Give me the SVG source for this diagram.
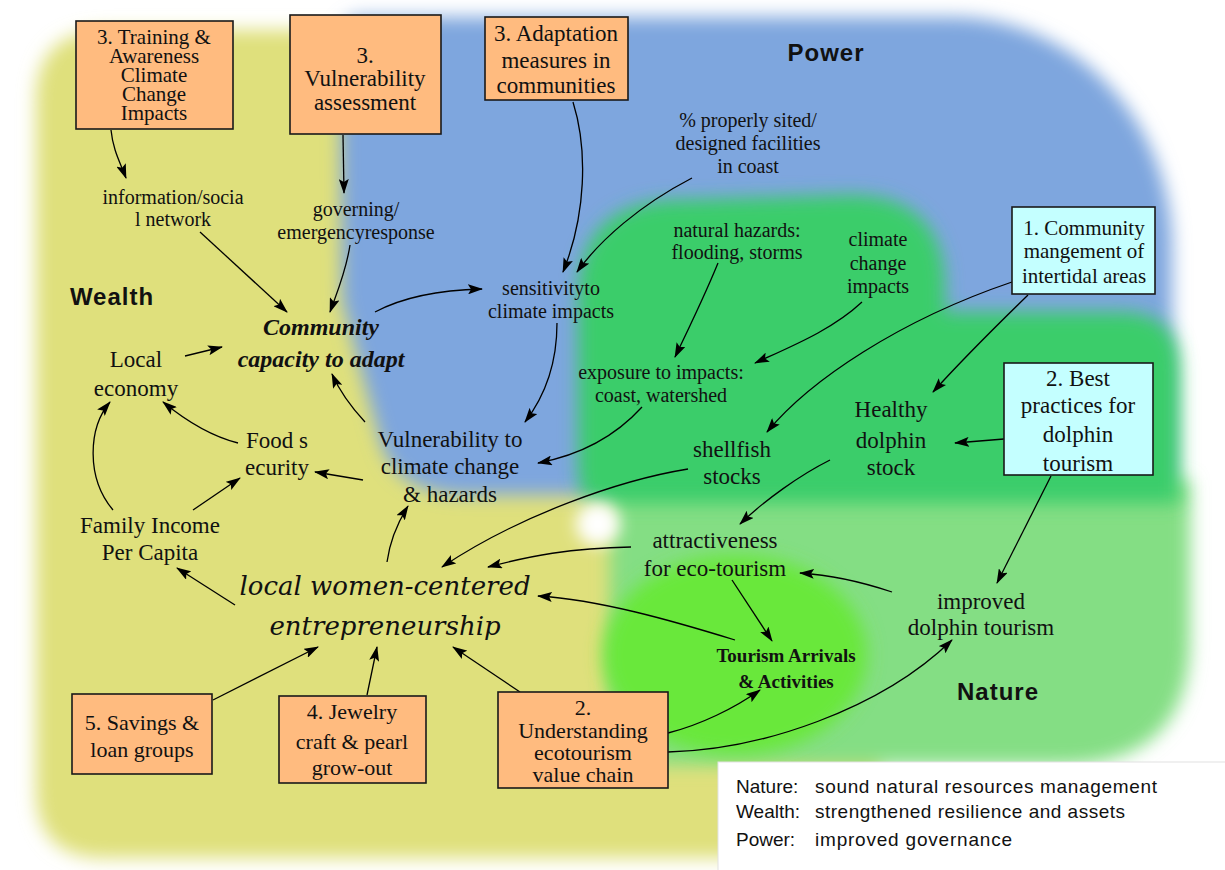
<svg xmlns="http://www.w3.org/2000/svg" width="1225" height="870" viewBox="0 0 1225 870">
<defs>
<filter id="blur" x="-20%" y="-20%" width="140%" height="140%"><feGaussianBlur stdDeviation="9"/></filter>
<filter id="blur2" x="-50%" y="-50%" width="200%" height="200%"><feGaussianBlur stdDeviation="8"/></filter>
<marker id="ah" markerUnits="userSpaceOnUse" markerWidth="15" markerHeight="10" refX="14" refY="5" orient="auto"><path d="M0,0 L15,5 L0,10 L3,5 Z" fill="#000"/></marker>
<style>
.box{fill:#ffbb7f;stroke:#1a1a1a;stroke-width:1.6}
.cbox{fill:#c4ffff;stroke:#1a1a1a;stroke-width:1.6}
text{font-family:"Liberation Serif",serif;fill:#111;text-anchor:middle}
.t23{font-size:23px}
.t22{font-size:22px}
.t20{font-size:20px}
.t21{font-size:21px}
.hd{font-family:"Liberation Sans",sans-serif;font-weight:bold;font-size:24px;letter-spacing:1px}
.cap{font-size:24px;font-weight:bold;font-style:italic}
.ent{font-family:"DejaVu Serif",serif;font-style:italic;font-size:26px}
.ta{font-size:19px;font-weight:bold}
.lg{font-family:"Liberation Sans",sans-serif;font-size:19px;text-anchor:start}
.c path{fill:none;stroke:#000;stroke-width:1.3;marker-end:url(#ah)}
</style>
</defs>
<rect width="1225" height="870" fill="#fff"/>
<g id="background">
<path filter="url(#blur)" fill="#dfe07b" d="M110,30 L440,30 L440,470 L800,470 Q880,470 880,550 L880,800 Q880,858 820,858 L105,858 Q36,858 36,790 L36,100 Q36,30 110,30 Z"/>
<path filter="url(#blur)" fill="#7ea6de" d="M362,17 L950,17 A220,230 0 0 1 1172,245 L1172,470 Q1172,495 1140,495 L470,495 Q395,495 380,440 L342,300 L340,40 Q340,17 362,17 Z"/>
<path filter="url(#blur)" fill="#84de84" d="M610,480 L1190,480 L1190,640 Q1190,765 1060,765 L660,765 Q610,765 610,720 Z"/>
<path filter="url(#blur)" fill="#3bcd6b" d="M680,200 L850,195 Q945,195 945,290 L945,312 L1120,312 Q1180,312 1180,370 L1180,503 L600,503 Q578,503 578,470 L578,300 Q578,200 680,200 Z"/>
<ellipse filter="url(#blur)" fill="#69e83b" cx="735" cy="655" rx="132" ry="100"/>
<circle filter="url(#blur2)" fill="#fff" cx="598" cy="524" r="22"/>
</g>
<g id="connectors" class="c">
<path d="M111,130 C113,150 120,162 126,178"/>
<path d="M343,135 L344,193"/>
<path d="M200,232 L287,312"/>
<path d="M350,245 C346,272 337,292 330,312"/>
<path d="M375,312 C405,296 440,290 482,289"/>
<path d="M573,102 C588,150 586,215 563,272"/>
<path d="M692,178 C640,205 600,240 577,272"/>
<path d="M557,323 C557,362 545,396 525,422"/>
<path d="M185,356 L222,347"/>
<path d="M238,443 C210,436 185,420 163,402"/>
<path d="M113,510 C86,478 88,428 110,402"/>
<path d="M193,510 L240,478"/>
<path d="M363,480 L315,472"/>
<path d="M365,422 C352,408 340,392 332,374"/>
<path d="M642,407 C612,440 575,456 538,463"/>
<path d="M718,263 C705,295 690,326 675,357"/>
<path d="M862,302 C832,330 792,346 755,363"/>
<path d="M1012,282 C900,320 810,380 767,432"/>
<path d="M1028,295 C992,330 962,360 933,392"/>
<path d="M1004,439 L955,443"/>
<path d="M1051,476 L997,583"/>
<path d="M830,460 C800,475 765,500 740,524"/>
<path d="M688,469 C620,480 520,515 442,567"/>
<path d="M631,547 C570,548 530,556 488,567"/>
<path d="M892,592 C862,582 832,575 800,573"/>
<path d="M732,580 L772,641"/>
<path d="M735,640 C670,620 600,600 538,596"/>
<path d="M520,692 L453,647"/>
<path d="M668,733 C700,725 735,708 760,690"/>
<path d="M668,752 C760,750 880,710 952,640"/>
<path d="M213,700 L318,647"/>
<path d="M367,695 L377,647"/>
<path d="M235,605 L177,568"/>
<path d="M387,562 C390,540 398,522 408,506"/>
</g>
<g id="n-training"><rect class="box" x="76" y="21" width="157" height="108"/><text class="t21"><tspan x="154" y="44">3. Training &amp;</tspan><tspan x="154" y="63">Awareness</tspan><tspan x="154" y="82">Climate</tspan><tspan x="154" y="101">Change</tspan><tspan x="154" y="120">Impacts</tspan></text></g>
<g id="n-vulnassess"><rect class="box" x="290" y="15" width="151" height="119"/><text class="t23"><tspan x="365" y="63">3.</tspan><tspan x="365" y="86">Vulnerability</tspan><tspan x="365" y="110">assessment</tspan></text></g>
<g id="n-adaptation"><rect class="box" x="485" y="17" width="143" height="83"/><text class="t23"><tspan x="556" y="41">3. Adaptation</tspan><tspan x="556" y="68">measures in</tspan><tspan x="556" y="93">communities</tspan></text></g>
<g id="n-community"><rect class="cbox" x="1012" y="207" width="143" height="87"/><text class="t21"><tspan x="1084" y="235">1. Community</tspan><tspan x="1084" y="258">mangement of</tspan><tspan x="1084" y="283">intertidal areas</tspan></text></g>
<g id="n-bestpractices"><rect class="cbox" x="1004" y="363" width="149" height="112"/><text class="t23"><tspan x="1078" y="386">2. Best</tspan><tspan x="1078" y="413">practices for</tspan><tspan x="1078" y="442">dolphin</tspan><tspan x="1078" y="471">tourism</tspan></text></g>
<g id="n-savings"><rect class="box" x="72" y="694" width="140" height="80"/><text class="t22"><tspan x="142" y="730">5. Savings &amp;</tspan><tspan x="142" y="757">loan groups</tspan></text></g>
<g id="n-jewelry"><rect class="box" x="279" y="696" width="147" height="87"/><text class="t22"><tspan x="352" y="719">4. Jewelry</tspan><tspan x="352" y="749">craft &amp; pearl</tspan><tspan x="352" y="775">grow-out</tspan></text></g>
<g id="n-understanding"><rect class="box" x="498" y="692" width="170" height="96"/><text class="t22"><tspan x="583" y="715">2.</tspan><tspan x="583" y="738">Understanding</tspan><tspan x="583" y="760">ecotourism</tspan><tspan x="583" y="782">value chain</tspan></text></g>
<g id="n-info"><text class="t20"><tspan x="173" y="204">information/socia</tspan><tspan x="173" y="226">l network</tspan></text></g>
<g id="n-governing"><text class="t20"><tspan x="356" y="216">governing/</tspan><tspan x="356" y="239">emergencyresponse</tspan></text></g>
<g id="n-sited"><text class="t20"><tspan x="748" y="127">% properly sited/</tspan><tspan x="748" y="150">designed facilities</tspan><tspan x="748" y="173">in coast</tspan></text></g>
<g id="n-hazards"><text class="t20"><tspan x="737" y="237">natural hazards:</tspan><tspan x="737" y="259">flooding, storms</tspan></text></g>
<g id="n-ccimpacts"><text class="t20"><tspan x="878" y="246">climate</tspan><tspan x="878" y="270">change</tspan><tspan x="878" y="293">impacts</tspan></text></g>
<g id="n-sensitivity"><text class="t20"><tspan x="551" y="295">sensitivityto</tspan><tspan x="551" y="318">climate impacts</tspan></text></g>
<g id="n-capacity"><text class="cap"><tspan x="321" y="335">Community</tspan><tspan x="321" y="367">capacity to adapt</tspan></text></g>
<g id="n-economy"><text class="t23"><tspan x="136" y="367">Local</tspan><tspan x="136" y="396">economy</tspan></text></g>
<g id="n-food"><text class="t23"><tspan x="277" y="448">Food s</tspan><tspan x="277" y="475">ecurity</tspan></text></g>
<g id="n-income"><text class="t23"><tspan x="150" y="533">Family Income</tspan><tspan x="150" y="560">Per Capita</tspan></text></g>
<g id="n-vulnerability"><text class="t23"><tspan x="450" y="447">Vulnerability to</tspan><tspan x="450" y="474">climate change</tspan><tspan x="450" y="502">&amp; hazards</tspan></text></g>
<g id="n-exposure"><text class="t20"><tspan x="661" y="379">exposure to impacts:</tspan><tspan x="661" y="402">coast, watershed</tspan></text></g>
<g id="n-shellfish"><text class="t23"><tspan x="732" y="457">shellfish</tspan><tspan x="732" y="484">stocks</tspan></text></g>
<g id="n-dolphin"><text class="t23"><tspan x="891" y="417">Healthy</tspan><tspan x="891" y="448">dolphin</tspan><tspan x="891" y="475">stock</tspan></text></g>
<g id="n-attract"><text class="t23"><tspan x="715" y="548">attractiveness</tspan><tspan x="715" y="576">for eco-tourism</tspan></text></g>
<g id="n-improved"><text class="t23"><tspan x="981" y="609">improved</tspan><tspan x="981" y="635">dolphin tourism</tspan></text></g>
<g id="n-women"><text class="ent"><tspan x="385" y="595">local women-centered</tspan><tspan x="385" y="635">entrepreneurship</tspan></text></g>
<g id="n-arrivals"><text class="ta"><tspan x="786" y="662">Tourism Arrivals</tspan><tspan x="786" y="688">&amp; Activities</tspan></text></g>
<g id="labels"><text class="hd" x="826" y="61">Power</text><text class="hd" x="112" y="305">Wealth</text><text class="hd" x="998" y="700">Nature</text></g>
<g id="legend"><rect x="718" y="762" width="510" height="112" fill="#fff" stroke="#e2e2e2"/>
<text class="lg" x="736" y="793">Nature:</text><text class="lg" x="815" y="793" textLength="342">sound natural resources management</text>
<text class="lg" x="736" y="818">Wealth:</text><text class="lg" x="815" y="818" textLength="310">strengthened resilience and assets</text>
<text class="lg" x="736" y="846">Power:</text><text class="lg" x="815" y="846" textLength="197">improved governance</text></g>
</svg>
